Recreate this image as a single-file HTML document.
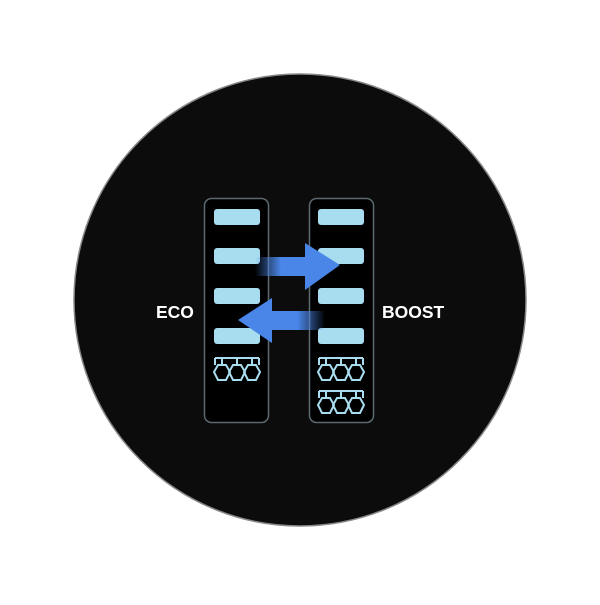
<!DOCTYPE html>
<html><head><style>
body{margin:0;background:#fff;width:600px;height:600px;overflow:hidden}
</style></head><body>
<svg width="600" height="600" viewBox="0 0 600 600" xmlns="http://www.w3.org/2000/svg">
<defs>
<linearGradient id="gr" x1="0" x2="1"><stop offset="0" stop-color="#4a86e8" stop-opacity="0"/><stop offset="0.5" stop-color="#4a86e8"/></linearGradient>
<linearGradient id="gl" x1="1" x2="0"><stop offset="0" stop-color="#4a86e8" stop-opacity="0"/><stop offset="0.5" stop-color="#4a86e8"/></linearGradient>
<g id="hc" fill="none" stroke="#a8dcef" stroke-width="2">
<path d="M1,1 L45,1 M1,1 L1,8 M45,1 L45,8"/>
<path d="M8,1 L8,8 M23,1 L23,8 M38,1 L38,8"/>
<path d="M4,8 L12,8 L16,15 L12,23 L4,23 L0,15 Z"/>
<path d="M19,8 L27,8 L31,15 L27,23 L19,23 L15,15 Z"/>
<path d="M34,8 L42,8 L46,15 L42,23 L34,23 L30,15 Z"/>
</g>
</defs>
<circle cx="300" cy="300" r="226" fill="#0c0c0c" stroke="#888" stroke-width="1.5"/>
<rect x="204.5" y="198.5" width="64" height="224" rx="7" fill="#000" stroke="#5a6a70" stroke-width="1.5"/>
<rect x="309.5" y="198.5" width="64" height="224" rx="7" fill="#000" stroke="#5a6a70" stroke-width="1.5"/>
<g fill="#a8dcef">
<rect x="214" y="209" width="46" height="16" rx="3"/>
<rect x="214" y="248" width="46" height="16" rx="3"/>
<rect x="214" y="288" width="46" height="16" rx="3"/>
<rect x="214" y="328" width="46" height="16" rx="3"/>
<rect x="318" y="209" width="46" height="16" rx="3"/>
<rect x="318" y="248" width="46" height="16" rx="3"/>
<rect x="318" y="288" width="46" height="16" rx="3"/>
<rect x="318" y="328" width="46" height="16" rx="3"/>
</g>
<use href="#hc" x="214" y="357"/>
<use href="#hc" x="318" y="357"/>
<use href="#hc" x="318" y="390"/>
<rect x="255" y="257" width="52" height="19" fill="url(#gr)"/>
<polygon points="305,243 340,265 305,290" fill="#4a86e8"/>
<rect x="270" y="311" width="55" height="19" fill="url(#gl)"/>
<polygon points="272,298 238,320 272,343" fill="#4a86e8"/>
<g font-family="Liberation Sans, sans-serif" font-weight="bold" font-size="17.5" fill="#fff">
<text x="156" y="318">ECO</text>
<text x="382" y="318">BOOST</text>
</g>
</svg>
</body></html>
